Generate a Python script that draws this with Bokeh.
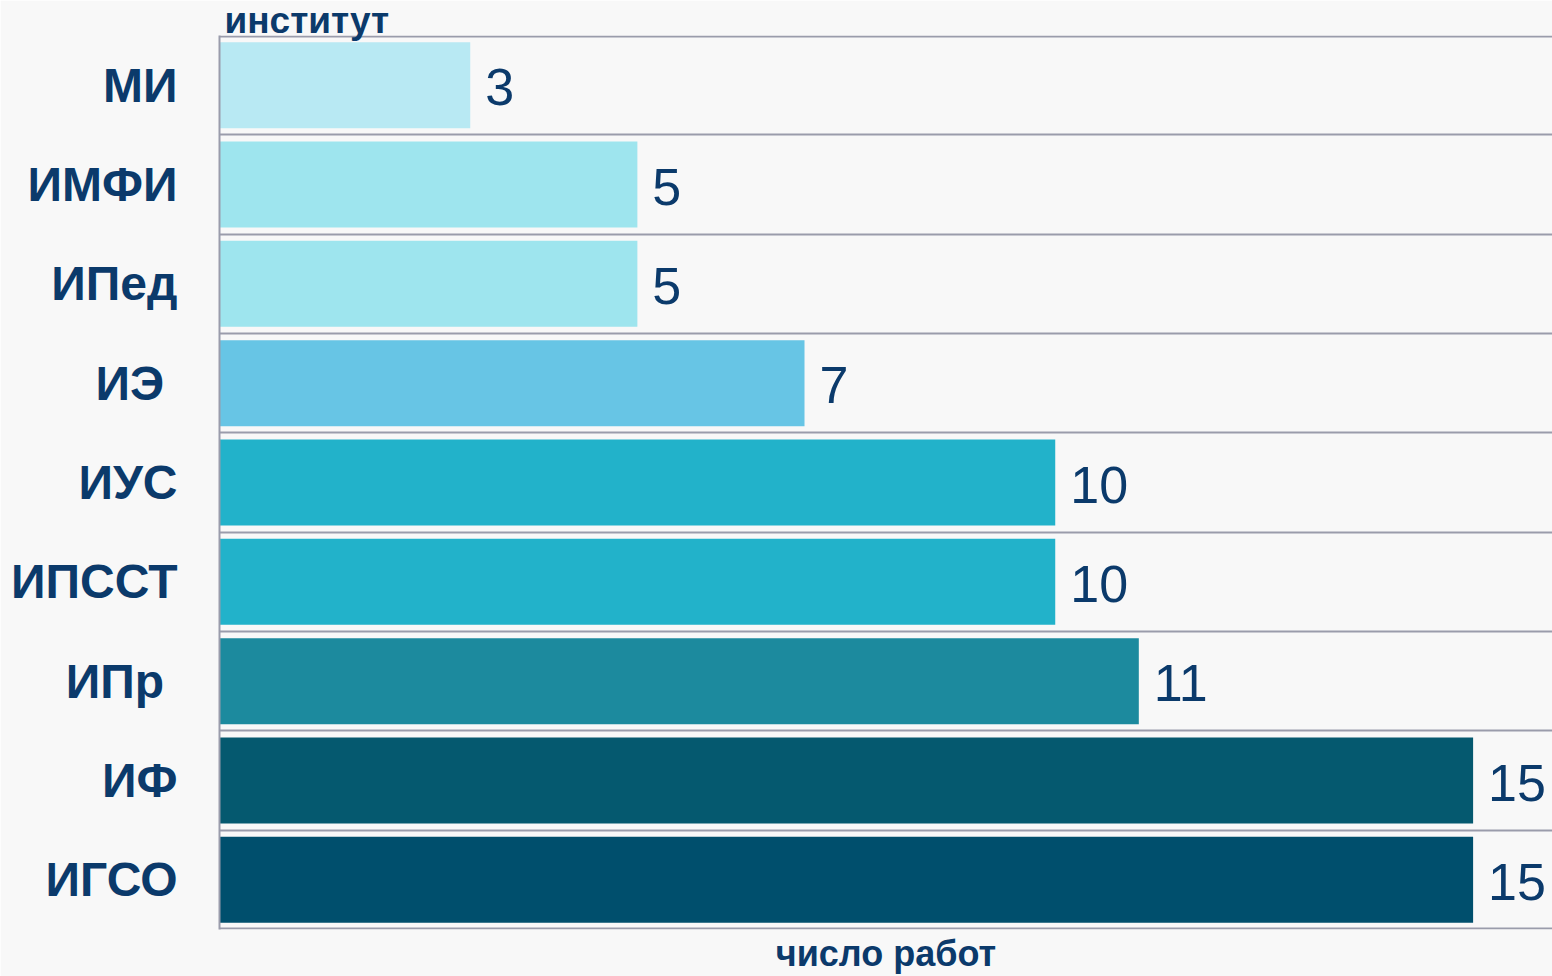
from bokeh.plotting import figure
from bokeh.models import Range1d, FixedTicker, ColumnDataSource, LabelSet, Title
from bokeh.core.properties import value
from bokeh.embed import file_html
from bokeh.resources import INLINE

categories = ["МИ", "ИМФИ", "ИПед", "ИЭ ", "ИУС", "ИПССТ", "ИПр ", "ИФ", "ИГСО"]
values = [3, 5, 5, 7, 10, 10, 11, 15, 15]
colors = ["#b8e9f3", "#9ee5ee", "#9ee5ee", "#67c5e5", "#22b2ca", "#22b2ca",
          "#1c8a9e", "#05596f", "#004f6d"]
value_labels = [str(v) for v in values]
x_title = "число работ"
y_title = "институт"

NAVY = "#0b3a6b"
BG = "#f8f8f8"
FONT = "Liberation Sans"

pos = list(range(len(categories)))
src = ColumnDataSource(dict(y=pos, v=values, c=colors, t=value_labels))

p = figure(width=1552, height=976, output_backend="svg", toolbar_location=None,
           x_range=Range1d(0, 15.95), y_range=Range1d(len(categories) - 0.5, -0.5),
           min_border_left=219, min_border_right=0, min_border_top=35, min_border_bottom=47)
p.background_fill_color = BG
p.border_fill_color = BG
p.outline_line_color = None

p.hbar(y="y", left=0, right="v", height=0.866, fill_color="c", line_color=None, source=src)

p.add_layout(LabelSet(x="v", y="y", text="t", source=src, x_offset=15, y_offset=-2,
                      text_baseline="middle", text_align="left",
                      text_font=value(FONT), text_font_size=value("52px"), text_color=NAVY))

# x axis: only the title "число работ"
xax = p.xaxis[0]
xax.ticker = FixedTicker(ticks=[])
xax.axis_line_color = None
xax.major_tick_out = 0
xax.major_tick_in = 0
xax.minor_tick_out = 0
xax.minor_tick_in = 0
xax.major_label_standoff = 0
xax.axis_label = x_title
xax.axis_label_standoff = 3
xax.axis_label_text_font = FONT
xax.axis_label_text_font_style = "bold"
xax.axis_label_text_font_size = "36px"
xax.axis_label_text_color = NAVY
p.xgrid.visible = False

yax = p.yaxis[0]
yax.ticker = FixedTicker(ticks=pos)
yax.major_label_overrides = {i: c for i, c in zip(pos, categories)}
yax.major_tick_out = 0
yax.major_tick_in = 0
yax.minor_tick_out = 0
yax.minor_tick_in = 0
yax.major_label_standoff = 42
yax.major_label_text_font = FONT
yax.major_label_text_font_style = "bold"
yax.major_label_text_font_size = "48px"
yax.major_label_text_color = NAVY
yax.axis_line_color = "#9a9cab"
yax.axis_line_width = 2

n = len(categories)
grid_ticks = [-0.49] + [i + 0.5 for i in range(n - 1)] + [n - 0.51]
p.ygrid.ticker = FixedTicker(ticks=grid_ticks)
p.ygrid.grid_line_color = "#9a9cab"
p.ygrid.grid_line_width = 2

p.add_layout(Title(text=y_title, align="left", offset=5, standoff=-10,
                   text_font=FONT, text_font_style="bold", text_font_size="37px",
                   text_color=NAVY), "above")

open("out.html", "w").write(file_html(p, INLINE))
